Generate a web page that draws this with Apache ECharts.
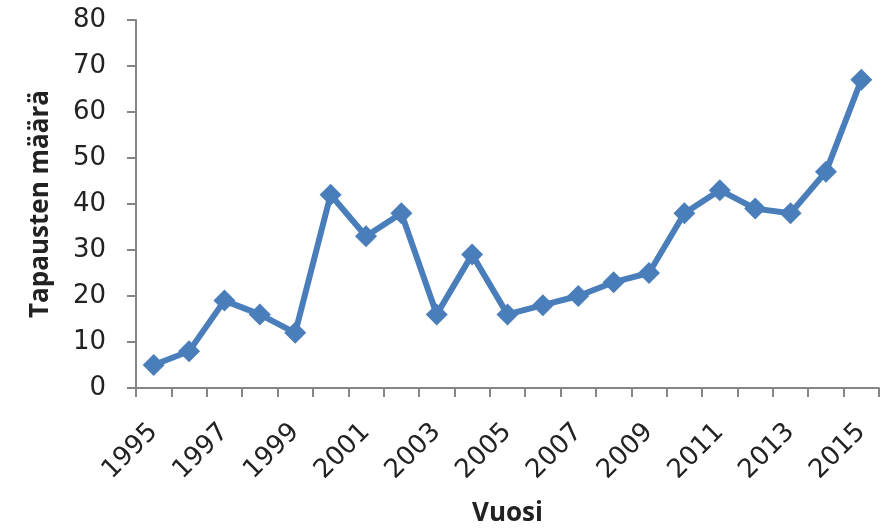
<!DOCTYPE html>
<html>
<head>
<meta charset="utf-8">
<script src="https://cdn.jsdelivr.net/npm/echarts@6/dist/echarts.min.js"></script>
<style>
  html, body { margin: 0; padding: 0; background: #fff; }
  #main { width: 882px; height: 528px; }
</style>
</head>
<body>
<div id="main"></div>
<script>
// vuodet ja tapausten määrä
var years = ["1995", "1996", "1997", "1998", "1999", "2000", "2001", "2002", "2003", "2004",
  "2005", "2006", "2007", "2008", "2009", "2010", "2011", "2012", "2013", "2014", "2015"];
var cases = [5, 8, 19, 16, 12, 42, 33, 38, 16, 29, 16, 18, 20, 23, 25, 38, 43, 39, 38, 47, 67];
var yTicks = [0, 10, 20, 30, 40, 50, 60, 70, 80];

var axisColor = "#868686";
var labelFont = "'DejaVu Sans', sans-serif";
var titleFont = "'Open Sans', 'DejaVu Sans', sans-serif";

var chart = echarts.init(document.getElementById("main"));
chart.setOption({
  animation: false,
  grid: { left: 136, right: 3, top: 20, bottom: 140, containLabel: false, outerBoundsMode: "none" },
  xAxis: {
    type: "category",
    data: years,
    boundaryGap: true,
    name: "Vuosi",
    nameLocation: "middle",
    nameGap: 113,
    nameTextStyle: { fontFamily: titleFont, fontSize: 26, fontWeight: "bold", color: "#222" },
    axisLine: { lineStyle: { color: axisColor, width: 2 } },
    axisTick: { show: true, interval: 0, length: 9, lineStyle: { color: axisColor, width: 2 } },
    axisLabel: {
      interval: 1,
      rotate: 45,
      margin: 40,
      fontFamily: labelFont,
      fontSize: 26,
      color: "#222"
    },
    splitLine: { show: false }
  },
  yAxis: {
    type: "value",
    min: yTicks[0],
    max: yTicks[yTicks.length - 1],
    interval: 10,
    name: "Tapausten määrä",
    nameLocation: "middle",
    nameGap: 82,
    nameTextStyle: { fontFamily: titleFont, fontSize: 26, fontWeight: "bold", color: "#222" },
    axisLine: { show: true, lineStyle: { color: axisColor, width: 2 } },
    axisTick: { show: true, length: 9, lineStyle: { color: axisColor, width: 2 } },
    axisLabel: { fontFamily: labelFont, fontSize: 26, color: "#222", margin: 30 },
    splitLine: { show: false }
  },
  series: [{
    type: "line",
    data: cases,
    symbol: "diamond",
    symbolSize: 22,
    lineStyle: { color: "#4A7EBB", width: 6 },
    itemStyle: { color: "#4A7EBB" }
  }]
});
</script>
</body>
</html>
